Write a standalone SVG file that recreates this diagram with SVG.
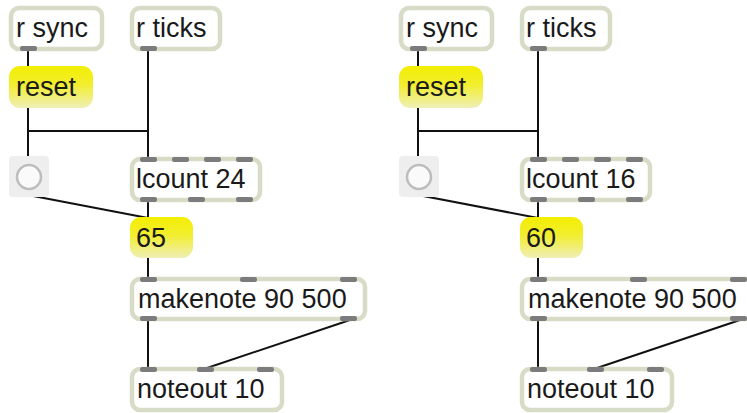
<svg xmlns="http://www.w3.org/2000/svg" width="747" height="413" viewBox="0 0 747 413">
<defs>
<linearGradient id="msg" x1="0" y1="0" x2="0" y2="1">
<stop offset="0" stop-color="#f3ee00"/>
<stop offset="0.45" stop-color="#f2ee30"/>
<stop offset="1" stop-color="#efefb8"/>
</linearGradient>
<style>
.obj{fill:#fff;stroke:#d6dcc6;stroke-width:4.5}
.msg{fill:url(#msg)}
.port{fill:#7c7c7c}
.tgl{fill:#eeeeee}
.ring{fill:#fafafa;stroke:#bdbdbd;stroke-width:2.5}
.t{font-family:"Liberation Sans",Arial,sans-serif;font-size:27px;fill:#1a1a1a}
.c{fill:none;stroke:#111;stroke-width:2}
</style>
</defs>
<rect width="747" height="413" fill="#fff"/>

<g id="connectors">
<g id="conn-left">
<line class="c" x1="28" y1="51" x2="28" y2="66"/>
<line class="c" x1="28" y1="108" x2="28" y2="156"/>
<polyline class="c" points="28,108 28,131 148,131 148,158"/>
<line class="c" x1="148" y1="51" x2="148" y2="158"/>
<line class="c" x1="28" y1="195" x2="148" y2="218"/>
<line class="c" x1="148" y1="201" x2="148" y2="218"/>
<line class="c" x1="148" y1="258" x2="148" y2="278"/>
<line class="c" x1="148" y1="320" x2="148" y2="368"/>
<line class="c" x1="350" y1="320" x2="204" y2="369"/>
</g>
<g id="conn-right" transform="translate(390,0)">
<line class="c" x1="28" y1="51" x2="28" y2="66"/>
<line class="c" x1="28" y1="108" x2="28" y2="156"/>
<polyline class="c" points="28,108 28,131 148,131 148,158"/>
<line class="c" x1="148" y1="51" x2="148" y2="158"/>
<line class="c" x1="28" y1="195" x2="148" y2="218"/>
<line class="c" x1="148" y1="201" x2="148" y2="218"/>
<line class="c" x1="148" y1="258" x2="148" y2="278"/>
<line class="c" x1="148" y1="320" x2="148" y2="368"/>
<line class="c" x1="350" y1="320" x2="204" y2="369"/>
</g>
</g>

<g id="left">
<g id="rsync1">
<rect class="obj" x="11" y="8" width="91" height="41" rx="8"/>
<rect class="port" x="20" y="46" width="17" height="5" rx="2"/>
<text class="t" x="16" y="37">r sync</text>
</g>
<g id="rticks1">
<rect class="obj" x="132" y="8" width="88" height="41" rx="8"/>
<rect class="port" x="140" y="46" width="17" height="5" rx="2"/>
<text class="t" x="136" y="37">r ticks</text>
</g>
<g id="reset1">
<rect class="msg" x="9" y="66" width="84" height="42" rx="11"/>
<text class="t" x="16" y="96">reset</text>
</g>
<g id="toggle1">
<rect class="tgl" x="9" y="156" width="40" height="41" rx="4"/>
<circle class="ring" cx="29" cy="177" r="12"/>
</g>
<g id="lcount1">
<rect class="obj" x="132" y="159" width="128" height="41" rx="8"/>
<rect class="port" x="140" y="157" width="17" height="5" rx="2"/>
<rect class="port" x="172" y="157" width="17" height="5" rx="2"/>
<rect class="port" x="204" y="157" width="17" height="5" rx="2"/>
<rect class="port" x="236" y="157" width="17" height="5" rx="2"/>
<rect class="port" x="140" y="197" width="17" height="5" rx="2"/>
<rect class="port" x="188" y="197" width="17" height="5" rx="2"/>
<rect class="port" x="236" y="197" width="17" height="5" rx="2"/>
<text class="t" x="136" y="188">lcount 24</text>
</g>
<g id="num1">
<rect class="msg" x="130" y="217" width="63" height="41" rx="11"/>
<text class="t" x="136" y="247">65</text>
</g>
<g id="makenote1">
<rect class="obj" x="132" y="279" width="233" height="40" rx="8"/>
<rect class="port" x="140" y="277" width="17" height="5" rx="2"/>
<rect class="port" x="240" y="277" width="17" height="5" rx="2"/>
<rect class="port" x="340" y="277" width="17" height="5" rx="2"/>
<rect class="port" x="140" y="316" width="17" height="5" rx="2"/>
<rect class="port" x="340" y="316" width="17" height="5" rx="2"/>
<text class="t" x="138" y="308">makenote 90 500</text>
</g>
<g id="noteout1">
<rect class="obj" x="132" y="369" width="150" height="41" rx="8"/>
<rect class="port" x="140" y="367" width="17" height="5" rx="2"/>
<rect class="port" x="197" y="367" width="17" height="5" rx="2"/>
<rect class="port" x="257" y="367" width="17" height="5" rx="2"/>
<text class="t" x="137" y="398">noteout 10</text>
</g>
</g>

<g id="right" transform="translate(390,0)">
<g id="rsync2">
<rect class="obj" x="11" y="8" width="91" height="41" rx="8"/>
<rect class="port" x="20" y="46" width="17" height="5" rx="2"/>
<text class="t" x="16" y="37">r sync</text>
</g>
<g id="rticks2">
<rect class="obj" x="132" y="8" width="88" height="41" rx="8"/>
<rect class="port" x="140" y="46" width="17" height="5" rx="2"/>
<text class="t" x="136" y="37">r ticks</text>
</g>
<g id="reset2">
<rect class="msg" x="9" y="66" width="84" height="42" rx="11"/>
<text class="t" x="16" y="96">reset</text>
</g>
<g id="toggle2">
<rect class="tgl" x="9" y="156" width="40" height="41" rx="4"/>
<circle class="ring" cx="29" cy="177" r="12"/>
</g>
<g id="lcount2">
<rect class="obj" x="132" y="159" width="128" height="41" rx="8"/>
<rect class="port" x="140" y="157" width="17" height="5" rx="2"/>
<rect class="port" x="172" y="157" width="17" height="5" rx="2"/>
<rect class="port" x="204" y="157" width="17" height="5" rx="2"/>
<rect class="port" x="236" y="157" width="17" height="5" rx="2"/>
<rect class="port" x="140" y="197" width="17" height="5" rx="2"/>
<rect class="port" x="188" y="197" width="17" height="5" rx="2"/>
<rect class="port" x="236" y="197" width="17" height="5" rx="2"/>
<text class="t" x="136" y="188">lcount 16</text>
</g>
<g id="num2">
<rect class="msg" x="130" y="217" width="63" height="41" rx="11"/>
<text class="t" x="136" y="247">60</text>
</g>
<g id="makenote2">
<rect class="obj" x="132" y="279" width="233" height="40" rx="8"/>
<rect class="port" x="140" y="277" width="17" height="5" rx="2"/>
<rect class="port" x="240" y="277" width="17" height="5" rx="2"/>
<rect class="port" x="340" y="277" width="17" height="5" rx="2"/>
<rect class="port" x="140" y="316" width="17" height="5" rx="2"/>
<rect class="port" x="340" y="316" width="17" height="5" rx="2"/>
<text class="t" x="138" y="308">makenote 90 500</text>
</g>
<g id="noteout2">
<rect class="obj" x="132" y="369" width="150" height="41" rx="8"/>
<rect class="port" x="140" y="367" width="17" height="5" rx="2"/>
<rect class="port" x="197" y="367" width="17" height="5" rx="2"/>
<rect class="port" x="257" y="367" width="17" height="5" rx="2"/>
<text class="t" x="137" y="398">noteout 10</text>
</g>
</g>
</svg>
